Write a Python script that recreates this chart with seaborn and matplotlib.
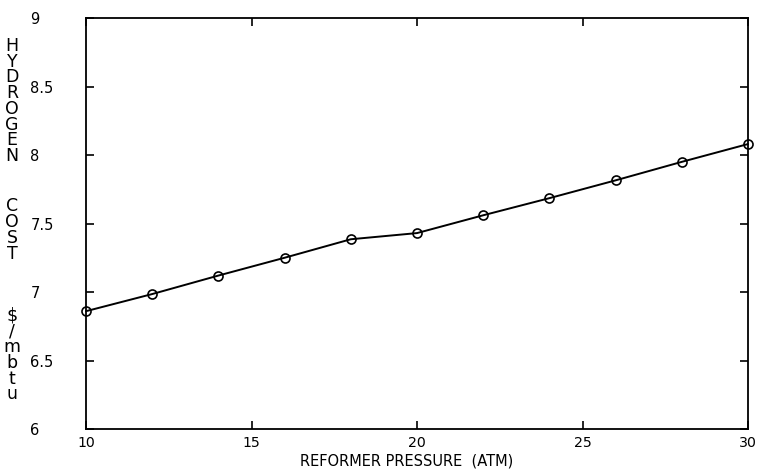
import numpy as np
import matplotlib
matplotlib.use("Agg")
import matplotlib.pyplot as plt
import seaborn as sns

# reformer pressure (atm) vs hydrogen cost ($/mbtu)
pressure = [10, 12, 14, 16, 18, 20, 22, 24, 26, 28, 30]
cost = [6.86, 6.985, 7.12, 7.25, 7.385, 7.43, 7.56, 7.685, 7.815, 7.95, 8.08]

y_ticks = [6, 6.5, 7, 7.5, 8, 8.5, 9]
y_tick_labels = ["6", "6.5", "7", "7.5", "8", "8.5", "9"]
x_ticks = [10, 15, 20, 25, 30]
x_tick_labels = ["10", "15", "20", "25", "30"]

sns.set_style("ticks")
plt.rcParams["font.family"] = ["DejaVu Sans"]
plt.rcParams["text.color"] = "black"
plt.rcParams["xtick.color"] = "black"
plt.rcParams["ytick.color"] = "black"

W, H = 761, 469
fig = plt.figure(figsize=(W / 100, H / 100), dpi=100)
ax = fig.add_axes([86 / W, (H - 429) / H, (748 - 86) / W, (429 - 18) / H])

sns.lineplot(
    x=pressure, y=cost, ax=ax,
    color="black", linewidth=1.4,
    marker="o", markersize=6.5, markerfacecolor="none",
    markeredgecolor="black", markeredgewidth=1.2,
    clip_on=False,
)

ax.set_xlim(10, 30)
ax.set_ylim(6, 9)

for s in ax.spines.values():
    s.set_linewidth(1.3)
    s.set_color("black")

ax.set_xticks(x_ticks)
ax.set_xticklabels(x_tick_labels, fontsize=10.2, color="black")
ax.set_yticks(y_ticks)
ax.set_yticklabels(y_tick_labels, fontsize=10.5, color="black")
for lab in ax.get_yticklabels():
    lab.set_horizontalalignment("left")

ax.tick_params(axis="both", direction="in", length=6, width=1.2, color="black")
ax.tick_params(axis="x", top=True, pad=5)
ax.tick_params(axis="y", right=True, pad=40)

# stacked vertical y-axis label
for word, yc in [("HYDROGEN", 101), ("COST", 230), ("$/mbtu", 355)]:
    fig.text(12 / W, 1 - yc / H, "\n".join(word), fontsize=12.5,
             ha="center", va="center", linespacing=0.84, color="black")

# x-axis label at the bottom edge
fig.text(407 / W, 0.5 / H, "REFORMER PRESSURE  (ATM)", fontsize=10.5,
         ha="center", va="bottom", color="black")

fig.savefig("out.png", dpi=100)
